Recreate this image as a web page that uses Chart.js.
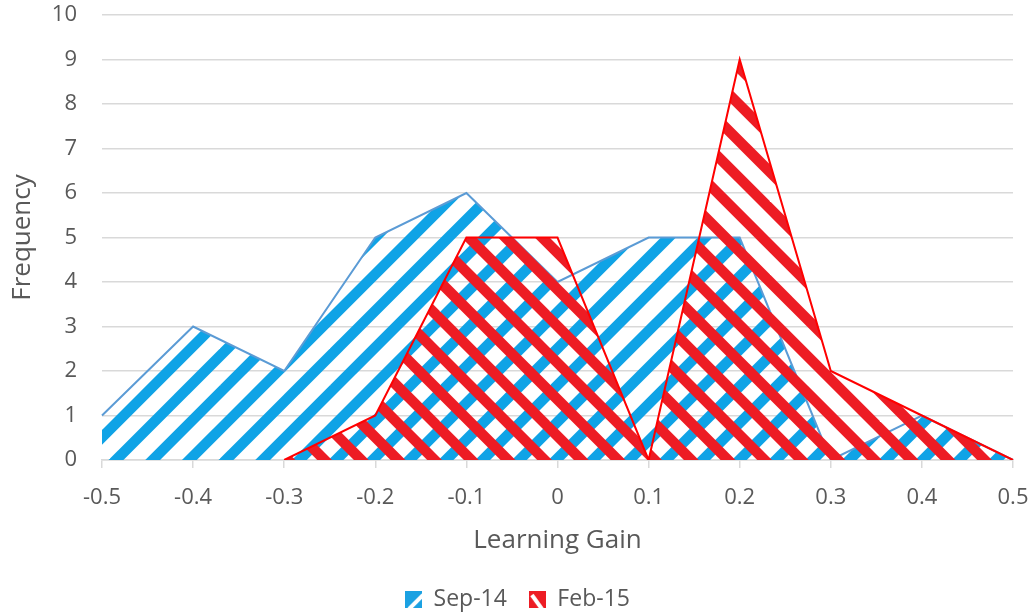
<!DOCTYPE html>
<html>
<head>
<meta charset="utf-8">
<title>Learning Gain</title>
<script src="https://cdn.jsdelivr.net/npm/chart.js@4/dist/chart.umd.min.js"></script>
<style>
    html, body { margin: 0; padding: 0; background: #fff; }
    #wrap { width: 1035px; height: 615px; position: relative; }
</style>
</head>
<body>
<div id="wrap"><canvas id="gainChart"></canvas></div>
<script>
(() => {
    'use strict';

    // Histogram bins and counts
    const gainBins = ['-0.5', '-0.4', '-0.3', '-0.2', '-0.1', '0', '0.1', '0.2', '0.3', '0.4', '0.5'];
    const sep14 = [1, 3, 2, 5, 6, 4, 5, 5, 0, 1, 0];
    const feb15 = [null, null, 0, 1, 5, 5, 0, 9, 2, 1, 0];
    const seriesNames = ['Sep-14', 'Feb-15'];

    const TEXT = '#595959';
    const GRID = '#d9d9d9';
    const FONT = '"Open Sans", sans-serif';

    // Diagonal stripe fill on a transparent background.
    // dir = 1 draws "/" stripes, dir = -1 draws "\" stripes.
    function stripePattern(color, dir, width, phase) {
        const tile = 110, per = tile / 3;
        const c = document.createElement('canvas');
        c.width = tile; c.height = tile;
        const g = c.getContext('2d');
        g.strokeStyle = color;
        g.lineWidth = width;
        g.lineCap = 'butt';
        for (let k = -3; k <= 9; k++) {
            const v = k * per + phase;
            g.beginPath();
            if (dir > 0) {
                g.moveTo(v + 30, -30);
                g.lineTo(v - tile - 30, tile + 30);
            } else {
                g.moveTo(v - 30, -30);
                g.lineTo(v + tile + 30, tile + 30);
            }
            g.stroke();
        }
        return document.createElement('canvas').getContext('2d').createPattern(c, 'repeat');
    }

    // Small swatches for the legend
    function legendSwatch(color, dir) {
        const s = 17;
        const c = document.createElement('canvas');
        c.width = s; c.height = s;
        const g = c.getContext('2d');
        g.fillStyle = color;
        g.fillRect(0, 0, s, s);
        g.strokeStyle = '#fff';
        g.lineWidth = 4;
        g.beginPath();
        if (dir > 0) {
            g.moveTo(4, s + 1);
            g.lineTo(s + 1, 4);
        } else {
            g.moveTo(3, 4);
            g.lineTo(s - 4, s + 1);
        }
        g.stroke();
        return c;
    }

    const swatches = [legendSwatch('#1ba1e2', 1), legendSwatch('#ed1c24', -1)];

    // keep tick padding from pushing the plot area inwards
    const noEdgePadding = scale => {
        scale.paddingTop = 0;
        scale.paddingBottom = 0;
        scale.paddingLeft = 0;
        scale.paddingRight = 0;
    };

    // centre the legend on the full canvas width rather than the padded area
    const legendNudge = {
        id: 'legendNudge',
        afterLayout(chart) {
            const lg = chart.legend;
            if (!lg) return;
            lg.left += 11;
            lg.right += 11;
            lg.top += 3;
            lg.bottom += 3;
        }
    };

    new Chart(document.getElementById('gainChart'), {
        type: 'line',
        data: {
            labels: gainBins,
            datasets: [{
                label: seriesNames[0],
                data: sep14,
                borderColor: '#5b9bd5',
                borderWidth: 2,
                backgroundColor: stripePattern('#0fa3e6', 1, 10.5, 576 % (110 / 3)),
                fill: 'origin',
                tension: 0,
                pointRadius: 0,
                order: 2
            }, {
                label: seriesNames[1],
                data: feb15,
                borderColor: '#ff0000',
                borderWidth: 2,
                backgroundColor: stripePattern('#ed1c24', -1, 10.5, 268 % (110 / 3)),
                fill: 'origin',
                tension: 0,
                pointRadius: 0,
                order: 1
            }]
        },
        plugins: [legendNudge],
        options: {
            responsive: true,
            maintainAspectRatio: false,
            animation: false,
            layout: { padding: { top: 15, right: 22, left: 0, bottom: -3 } },
            plugins: {
                tooltip: { enabled: false },
                legend: {
                    position: 'bottom',
                    labels: {
                        usePointStyle: true,
                        pointStyleWidth: 17,
                        padding: 22,
                        color: TEXT,
                        font: { family: FONT, size: 23 },
                        generateLabels: chart => chart.data.datasets.map((ds, i) => ({
                            text: ds.label,
                            pointStyle: swatches[i],
                            fillStyle: 'transparent',
                            strokeStyle: 'transparent',
                            lineWidth: 0,
                            fontColor: TEXT,
                            hidden: false,
                            datasetIndex: i
                        }))
                    }
                }
            },
            scales: {
                x: {
                    type: 'category',
                    offset: false,
                    grid: {
                        drawOnChartArea: false,
                        drawTicks: true,
                        tickLength: 8,
                        color: GRID,
                        lineWidth: 1.5
                    },
                    border: { display: true, color: GRID, width: 1.5 },
                    ticks: {
                        color: TEXT,
                        font: { family: FONT, size: 22 },
                        padding: 17,
                        maxRotation: 0,
                        autoSkip: false
                    },
                    title: {
                        display: true,
                        text: 'Learning Gain',
                        color: TEXT,
                        font: { family: FONT, size: 26 },
                        padding: { top: 0, bottom: 7 }
                    },
                    afterFit: scale => {
                        scale.height = 103;
                        noEdgePadding(scale);
                    }
                },
                y: {
                    min: 0,
                    max: 10,
                    grid: {
                        drawTicks: false,
                        color: GRID,
                        lineWidth: 1.5
                    },
                    border: { display: false },
                    ticks: {
                        stepSize: 1,
                        color: TEXT,
                        font: { family: FONT, size: 22 },
                        padding: 25
                    },
                    title: {
                        display: true,
                        text: 'Frequency',
                        color: TEXT,
                        font: { family: FONT, size: 26 },
                        padding: { top: 7, bottom: 0 }
                    },
                    afterFit: scale => {
                        scale.width = 102;
                        noEdgePadding(scale);
                    }
                }
            }
        }
    });
})();
</script>
</body>
</html>
